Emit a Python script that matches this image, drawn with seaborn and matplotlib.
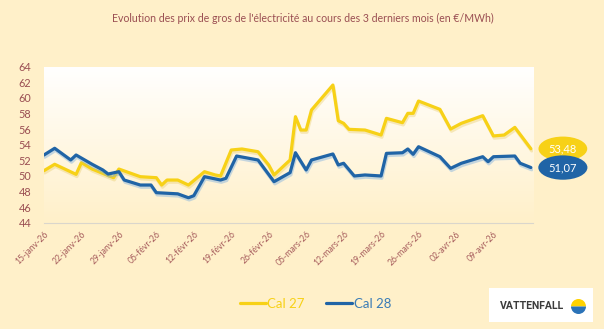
import numpy as np
import pandas as pd
import matplotlib
matplotlib.use("Agg")
import matplotlib.pyplot as plt
import matplotlib.patheffects as pe
import matplotlib.transforms as mtransforms
from matplotlib.patches import FancyBboxPatch, Wedge
import seaborn as sns

# ---- data -------------------------------------------------------------
start = pd.Timestamp("2026-01-15")

cal27_days = [0, 2, 6, 7, 9, 13, 14, 18, 21, 22, 23, 25, 27, 30, 32, 33, 35, 37,
              40, 42, 43, 46, 47, 48, 49, 50, 54, 55, 56, 57, 60, 63, 64, 67, 68,
              69, 70, 74, 76, 78, 82, 84, 86, 88, 91]
cal27_values = [50.67, 51.49, 50.20, 51.70, 50.88, 49.77, 50.88, 49.90, 49.77,
                48.83, 49.47, 49.47, 48.83, 50.54, 50.12, 49.99, 53.32, 53.45,
                53.10, 51.40, 50.12, 52.04, 57.59, 55.88, 55.88, 58.45, 61.65,
                57.08, 56.74, 55.97, 55.88, 55.24, 57.38, 56.82, 58.02, 58.02,
                59.60, 58.53, 56.01, 56.74, 57.72, 55.12, 55.24, 56.22, 53.48]

cal28_days = [0, 2, 5, 6, 9, 11, 12, 14, 15, 18, 20, 21, 25, 27, 28, 30, 33, 34,
              36, 40, 43, 46, 47, 49, 50, 54, 55, 56, 58, 60, 63, 64, 67, 68, 69,
              70, 74, 76, 78, 82, 83, 84, 88, 89, 91]
cal28_values = [52.68, 53.54, 52.04, 52.68, 51.49, 50.76, 50.24, 50.54, 49.47,
                48.83, 48.83, 47.85, 47.70, 47.20, 47.46, 49.90, 49.47, 49.69,
                52.55, 52.04, 49.26, 50.42, 52.97, 50.76, 52.04, 52.81, 51.40,
                51.62, 49.99, 50.12, 49.99, 52.89, 52.97, 53.45, 52.77, 53.74,
                52.46, 50.97, 51.62, 52.46, 51.82, 52.46, 52.55, 51.62, 51.07]

series_names = ["Cal 27", "Cal 28"]
tick_labels = ["15-janv-26", "22-janv-26", "29-janv-26", "05-févr-26", "12-févr-26",
               "19-févr-26", "26-févr-26", "05-mars-26", "12-mars-26", "19-mars-26",
               "26-mars-26", "02-avr-26", "09-avr-26"]
y_ticks = list(range(44, 65, 2))

title = "Evolution des prix de gros de l'électricité au cours des 3 derniers mois (en €/MWh)"

# ---- styling ----------------------------------------------------------
BG = "#FFF0C9"
YELLOW = "#F7D117"
BLUE = "#2064A6"
TEXT = "#9A4E52"

sns.set_theme(style="white")
plt.rcParams["font.family"] = ["Lato", "DejaVu Sans"]

df = pd.concat([
    pd.DataFrame({"date": start + pd.to_timedelta(cal27_days, unit="D"),
                  "price": cal27_values, "serie": series_names[0]}),
    pd.DataFrame({"date": start + pd.to_timedelta(cal28_days, unit="D"),
                  "price": cal28_values, "serie": series_names[1]}),
])

fig = plt.figure(figsize=(6.04, 3.29), dpi=100, facecolor=BG)
ax = fig.add_axes([0.0728, 0.3231, 0.8097, 0.4742])
ax.set_facecolor(BG)

# vertical cream-to-white gradient behind the plot
grad = np.linspace(0, 1, 256).reshape(-1, 1)
cmap = matplotlib.colors.LinearSegmentedColormap.from_list("g", [BG, "#FFFFFF"])
ax.imshow(grad, aspect="auto", cmap=cmap, extent=[0, 1, 1, 0],
          transform=ax.transAxes, zorder=0)

shadow = {
    series_names[0]: [pe.SimpleLineShadow(offset=(0.6, -1.6), shadow_color="#E8C85A", alpha=0.35),
                      pe.Normal()],
    series_names[1]: [pe.SimpleLineShadow(offset=(0.6, -1.6), shadow_color="#7FB0DE", alpha=0.45),
                      pe.Normal()],
}

sns.lineplot(data=df, x="date", y="price", hue="serie",
             palette={series_names[0]: YELLOW, series_names[1]: BLUE},
             linewidth=2.3, ax=ax, legend=False, zorder=3)
for line, name in zip(ax.get_lines(), series_names):
    line.set_path_effects(shadow[name])
    line.set_solid_joinstyle("round")

end = start + pd.Timedelta(days=91)
ax.set_xlim(start, end + pd.Timedelta(days=0.4))
ax.set_ylim(44, 64)

tick_dates = [start + pd.Timedelta(days=7 * i) for i in range(len(tick_labels))]
ax.set_xticks(tick_dates + [start + pd.Timedelta(days=91)])
ax.set_xticklabels(tick_labels + [""], rotation=45, ha="right",
                   rotation_mode="anchor", fontsize=6.2, color="#A65C5C")
ax.set_yticks(y_ticks)
ax.set_yticklabels([str(v) for v in y_ticks], fontsize=7.8, color=TEXT)
ax.tick_params(axis="x", length=3, width=0.6, color="#D8D2C4", pad=2)
ax.tick_params(axis="y", length=0, pad=9)
ax.set_xlabel("")
ax.set_ylabel("")
for side in ["top", "right", "left"]:
    ax.spines[side].set_visible(False)
ax.spines["bottom"].set_color("#DAD6CC")
ax.spines["bottom"].set_linewidth(0.8)

# end-of-series value badges
trans = mtransforms.blended_transform_factory(ax.transAxes, ax.transData)
for vals, col in [(cal27_values, YELLOW), (cal28_values, BLUE)]:
    ax.text(1.061, vals[-1], f"{vals[-1]:.2f}".replace(".", ","), transform=trans,
            ha="center", va="center", fontsize=8, color="white", clip_on=False,
            zorder=5,
            bbox=dict(boxstyle="ellipse,pad=0.28", fc=col, ec="none"))

fig.text(0.502, 0.945, title, ha="center", va="center", fontsize=7.6, color=TEXT)

# legend
handles = [matplotlib.lines.Line2D([], [], color=YELLOW, lw=2.3),
           matplotlib.lines.Line2D([], [], color=BLUE, lw=2.3)]
leg = fig.legend(handles, series_names, loc="center", bbox_to_anchor=(0.522, 0.076),
                 ncol=2, frameon=False, fontsize=9.5, handlelength=2.0,
                 handletextpad=0.1, columnspacing=1.6)
for txt, col in zip(leg.get_texts(), [YELLOW, "#3A7CB6"]):
    txt.set_color(col)

# brand box
box = FancyBboxPatch((489 / 604, 1 - 322 / 329), 104 / 604, 34 / 329,
                     boxstyle="square,pad=0", transform=fig.transFigure,
                     fc="white", ec="none", zorder=0)
fig.patches.append(box)
fig.text(532 / 604, 1 - 306 / 329, "VATTENFALL", ha="center", va="center",
         fontsize=7.6, fontweight="bold", color="#3C3C3C",
         family=["Roboto", "DejaVu Sans"], zorder=3)
lax = fig.add_axes([571 / 604, 1 - 314 / 329, 15 / 604, 15 / 329], zorder=4)
lax.set_xlim(-1, 1)
lax.set_ylim(-1, 1)
lax.set_aspect("equal")
lax.axis("off")
lax.add_patch(Wedge((0, 0), 1, 0, 180, fc="#FFD200", ec="none"))
lax.add_patch(Wedge((0, 0), 1, 180, 360, fc="#2B73B8", ec="none"))

fig.savefig("out.png", dpi=100, facecolor=BG)
